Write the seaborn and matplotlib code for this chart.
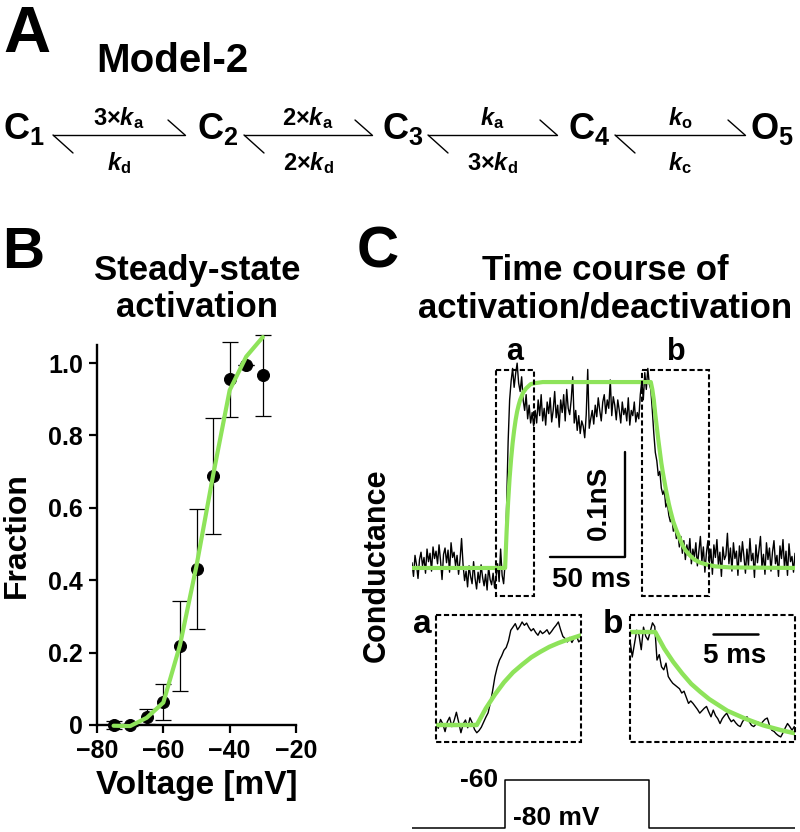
import matplotlib
matplotlib.use('Agg')
import matplotlib.pyplot as plt
import seaborn as sns
from matplotlib.patches import Rectangle

sns.set_style('ticks')
plt.rcParams['font.family'] = ['Liberation Sans', 'DejaVu Sans']
plt.rcParams['font.weight'] = 'bold'
plt.rcParams['axes.labelweight'] = 'bold'
plt.rcParams['mathtext.fontset'] = 'custom'
plt.rcParams['mathtext.rm'] = 'Liberation Sans:bold'
plt.rcParams['mathtext.bf'] = 'Liberation Sans:bold'
plt.rcParams['mathtext.it'] = 'Liberation Sans:italic:bold'
for key in ['text.color', 'axes.labelcolor', 'xtick.color', 'ytick.color', 'axes.edgecolor']:
    plt.rcParams[key] = 'black'

W, H = 800, 832
GREEN = '#8EE35A'

# --- A: kinetic scheme
states = [r'$\mathrm{C}_\mathrm{1}$', r'$\mathrm{C}_\mathrm{2}$', r'$\mathrm{C}_\mathrm{3}$',
          r'$\mathrm{C}_\mathrm{4}$', r'$\mathrm{O}_\mathrm{5}$']
rates_fwd = [r'$3{\times}k_\mathrm{a}$', r'$2{\times}k_\mathrm{a}$', r'$k_\mathrm{a}$', r'$k_\mathrm{o}$']
rates_bwd = [r'$k_\mathrm{d}$', r'$2{\times}k_\mathrm{d}$', r'$3{\times}k_\mathrm{d}$', r'$k_\mathrm{c}$']

# --- B: steady-state activation
volt = [-75, -70, -65, -60, -55, -50, -45, -40, -35, -30]
frac = [0.0, 0.0, 0.023, 0.064, 0.218, 0.43, 0.688, 0.955, 0.994, 0.966]
frac_err = [0.012, 0.004, 0.021, 0.049, 0.125, 0.166, 0.16, 0.104, 0.0, 0.112]
fit_frac = [-0.002, -0.003, 0.02, 0.062, 0.22, 0.44, 0.69, 0.925, 1.018, 1.072]

# --- C: conductance trace (pS), 1 ms samples from -62 to 193 ms
t_main = list(range(-62, 194))
g_main = [5, -8, 12, 3, -10, 8, 15, 2, 10, -5, 18, 6, 14, -3, 20, 9, 16, 4, 22, 7,
          -11, 13, 19, 5, 17, -4, 24, 10, 15, 2, 12, -6, 8, 28, 3,
          -12, -3, -18, 2, -8, -15, 6, -10, -20, -4, -14, 3, -9, -17, -6, -21, 1, -11,
          -16, -5, -19, -8, 4, -13, 18, -7, -15,
          5, 60, 120, 160, 178, 190, 172, 185, 195, 176, 168, 182, 160, 150, 165, 142,
          155, 138, 148, 135,
          150, 138, 160, 145, 165, 140, 152, 136, 158, 147,
          162, 139, 150, 168, 143, 155, 134, 160, 148, 165,
          140, 170, 152, 146, 160, 182, 138, 150, 131, 145,
          128, 140, 135, 124, 146, 189, 133, 142, 150, 137,
          155, 144, 162, 150, 140, 158, 165, 147, 160, 152,
          179, 145, 163, 155, 141, 160, 150, 138, 158, 146,
          152, 140, 162, 136, 150, 145, 158, 139, 148, 142,
          165, 178, 160, 186, 170, 190, 175,
          170, 150, 128, 110, 102, 88, 92, 76, 70, 74,
          58, 62, 50, 44, 48, 35, 40, 28, 33, 20,
          30, 14, 26, 8, 22, 12, 28, 4, 18, 10,
          24, 2, 16, 30, 6, 20, -4, 14, 26, 5,
          18, -6, 22, 10, 27, 3, 15, -8, 20, 8,
          12, 33, 4, 19, -3, 24, 9, 16, -7, 21,
          6, 25, 11, -5, 18, 2, 28, 7, 14, -9,
          22, 5, 17, 30, 1, 13, -6, 24, 8, 19,
          -3, 15, 26, 4, 12, -8, 21, 9, 27, 0,
          16, -7, 23, 6, 11, -4, 14]
fit_t = [-62, 0, 1, 2, 3, 4, 5, 6, 7, 8, 9, 10, 12, 14, 17, 20, 25,
         97, 98, 99, 100, 101, 102, 103, 104, 105, 106, 107, 108, 109, 110,
         112, 114, 116, 118, 120, 123, 126, 130, 135, 140, 150, 193]
fit_g = [0, 0, 35, 63, 86, 104, 119, 131, 141, 149, 155, 160, 167, 171, 175, 176, 177,
         177, 170, 160, 146, 134, 122, 111, 100, 91, 83, 75, 68, 61, 55,
         44, 36, 29, 22, 17, 12, 8, 5, 3, 1.5, 0.5, 0]

# inset a (0.25 ms samples, 0-16 ms)
t_ins_a = [i * 0.25 for i in range(65)]
g_ins_a = [4, -6, 10, 2, -12, 6, 14, -3, 8, 23, 5, -14, 2, 9, -5, 13, 4, -8, -14,
           -10, -4, 5, 14, 22, 40, 62, 87, 104, 117, 125, 135, 140, 152, 171, 177,
           183, 172, 178, 186, 180, 184, 176, 170, 174, 167, 162, 170, 165, 168, 172,
           164, 169, 175, 180, 186, 172, 160, 156, 150, 158, 149, 157, 161, 150, 154]
fit_ta = [0, 4.5, 5.5, 6.5, 7.5, 8.5, 9.5, 10.5, 11.5, 12.5, 13.5, 14.5, 16]
fit_ga = [0, 0, 30, 55, 77, 95, 109, 122, 132, 141, 148, 154, 162]

# inset b (0.25 ms samples, 0-18.25 ms)
t_ins_b = [i * 0.25 for i in range(74)]
g_ins_b = [164, 136, 158, 180, 172, 148, 185, 170, 164, 178, 192, 186,
           131, 140, 120, 115,
           126, 104, 98, 93, 90, 87, 84, 77, 80, 70, 60, 64,
           60, 55, 50, 44, 48, 52, 55, 46, 38, 49, 40, 35,
           27, 35, 40, 44, 36, 30, 33, 28, 24, 22, 30, 35,
           38, 30, 24, 22, 26, 29, 25, 30, 34, 36, 24, 16,
           14, 10, 7, 5, 12, 20, 27, 22, 16, 22]
fit_tb = [0, 2.8, 3.8, 4.8, 5.8, 6.8, 7.8, 8.8, 10.8, 12.8, 14.8, 16.8, 18.3]
fit_gb = [177, 177, 150, 128, 109, 92, 79, 67, 48, 35, 24, 16, 11]

# voltage protocol
prot_t = [-62, 0, 0, 96, 96, 193]
prot_v = [-80, -80, -60, -60, -80, -80]


def px_axes(x0, y0, x1, y1, **kw):
    return fig.add_axes([x0 / W, 1 - y1 / H, (x1 - x0) / W, (y1 - y0) / H], **kw)


fig = plt.figure(figsize=(8, 8.32), dpi=100)

# ---------------- panel B
axB = px_axes(97, 345, 296, 725)
axB.errorbar(volt, frac, yerr=frac_err, fmt='none', ecolor='k', elinewidth=0.9,
             capsize=5.5, capthick=0.9, clip_on=False, zorder=2)
sns.scatterplot(x=volt, y=frac, ax=axB, color='k', s=75, edgecolor='k',
                legend=False, clip_on=False, zorder=3)
sns.lineplot(x=volt, y=fit_frac, ax=axB, color=GREEN, lw=3, clip_on=False, zorder=4)
axB.set_xlim(-80, -20)
axB.set_ylim(0, 1.05)
axB.set_xticks([-80, -60, -40, -20])
axB.set_yticks([0, 0.2, 0.4, 0.6, 0.8, 1.0])
axB.set_yticklabels(['0', '0.2', '0.4', '0.6', '0.8', '1.0'])
axB.tick_params(labelsize=18, width=1.6, length=6, pad=4, colors='black')
for s in ['left', 'bottom']:
    axB.spines[s].set_linewidth(1.7)
    axB.spines[s].set_color('black')
sns.despine(ax=axB)
axB.set_xlabel('Voltage [mV]', fontsize=24)
axB.set_ylabel('Fraction', fontsize=23)
axB.xaxis.set_label_coords(0.5, -0.118)
axB.yaxis.set_label_coords(-0.327, 0.5)

# ---------------- panel C main trace
axC = px_axes(412, 360, 795, 600)
sns.lineplot(x=t_main, y=g_main, ax=axC, color='k', lw=1.0, estimator=None, sort=False)
sns.lineplot(x=fit_t, y=fit_g, ax=axC, color=GREEN, lw=3, estimator=None, sort=False)
axC.set_xlim(-62, 193)
axC.set_ylim(-30.5, 198)
axC.axis('off')

axIa = px_axes(436, 615, 581, 742)
sns.lineplot(x=t_ins_a, y=g_ins_a, ax=axIa, color='k', lw=1.0, estimator=None, sort=False)
sns.lineplot(x=fit_ta, y=fit_ga, ax=axIa, color=GREEN, lw=3.2, estimator=None, sort=False)
axIa.set_xlim(0, 16)
axIa.set_ylim(-30.7, 198.6)
axIa.axis('off')

axIb = px_axes(630, 615, 795, 742)
sns.lineplot(x=t_ins_b, y=g_ins_b, ax=axIb, color='k', lw=1.0, estimator=None, sort=False)
sns.lineplot(x=fit_tb, y=fit_gb, ax=axIb, color=GREEN, lw=3.2, estimator=None, sort=False)
axIb.set_xlim(0, 18.33)
axIb.set_ylim(-3.3, 204.9)
axIb.axis('off')

axV = px_axes(412, 770, 795, 832)
sns.lineplot(x=prot_t, y=prot_v, ax=axV, color='k', lw=1.1, estimator=None, sort=False)
axV.set_xlim(-62, 193)
axV.set_ylim(-81.67, -55.83)
axV.axis('off')

# ---------------- overlay for text and annotations (pixel coordinates)
ov = fig.add_axes([0, 0, 1, 1], zorder=10)
ov.set_xlim(0, W)
ov.set_ylim(H, 0)
ov.axis('off')

ov.text(3, 52, 'A', fontsize=47, ha='left', va='baseline')
ov.text(172, 72, 'Model-2', fontsize=29, ha='center', va='baseline')
state_x = [3, 197, 382, 568, 750]
for x, s in zip(state_x, states):
    ov.text(x, 139, s, fontsize=26, ha='left', va='baseline')
arrow_x = [(53, 185), (244, 372), (428, 557), (615, 745)]
for (x0, x1), top, bot in zip(arrow_x, rates_fwd, rates_bwd):
    ov.plot([x0, x1], [135, 135], color='k', lw=1.0)
    ov.plot([x1, x1 - 17], [135, 120], color='k', lw=1.0)
    ov.plot([x0, x0 + 20], [135, 153], color='k', lw=1.0)
    cx = (x0 + x1) / 2
    ov.text(cx, 125, top, fontsize=17, ha='center', va='baseline')
    ov.text(cx, 170, bot, fontsize=17, ha='center', va='baseline')

ov.text(2, 268, 'B', fontsize=42, ha='left', va='baseline')
ov.text(357, 268, 'C', fontsize=42, ha='left', va='baseline')
ov.text(197, 280, 'Steady-state', fontsize=25, ha='center', va='baseline')
ov.text(197, 317, 'activation', fontsize=25, ha='center', va='baseline')
ov.text(605, 280, 'Time course of', fontsize=25, ha='center', va='baseline')
ov.text(605, 317, 'activation/deactivation', fontsize=25, ha='center', va='baseline')
ov.text(377, 565, 'Conductance', fontsize=22, rotation=90, ha='center', va='center')

dash = (0, (2.5, 1.3))
for (x0, y0, x1, y1) in [(496, 370, 534, 596), (642, 370, 709, 596),
                         (436, 615, 581, 742), (630, 615, 795, 742)]:
    ov.add_patch(Rectangle((x0, y0), x1 - x0, y1 - y0, fill=False, ec='k', lw=1.5, ls=dash))
ov.text(515, 360, 'a', fontsize=22, ha='center', va='baseline')
ov.text(676, 360, 'b', fontsize=22, ha='center', va='baseline')
ov.text(422, 633, 'a', fontsize=24, ha='center', va='baseline')
ov.text(613, 633, 'b', fontsize=24, ha='center', va='baseline')

# scale bars
ov.plot([625, 625, 550], [452, 557, 557], color='k', lw=1.7)
ov.text(599, 503, '0.1nS', fontsize=20, rotation=90, ha='center', va='center')
ov.text(591, 587, '50 ms', fontsize=20, ha='center', va='baseline')
ov.plot([713, 758], [634, 634], color='k', lw=1.8)
ov.text(735, 663, '5 ms', fontsize=20, ha='center', va='baseline')
ov.text(498, 787, '-60', fontsize=19, ha='right', va='baseline')
ov.text(513, 825, '-80 mV', fontsize=19, ha='left', va='baseline')

fig.savefig('out.png', dpi=100)
